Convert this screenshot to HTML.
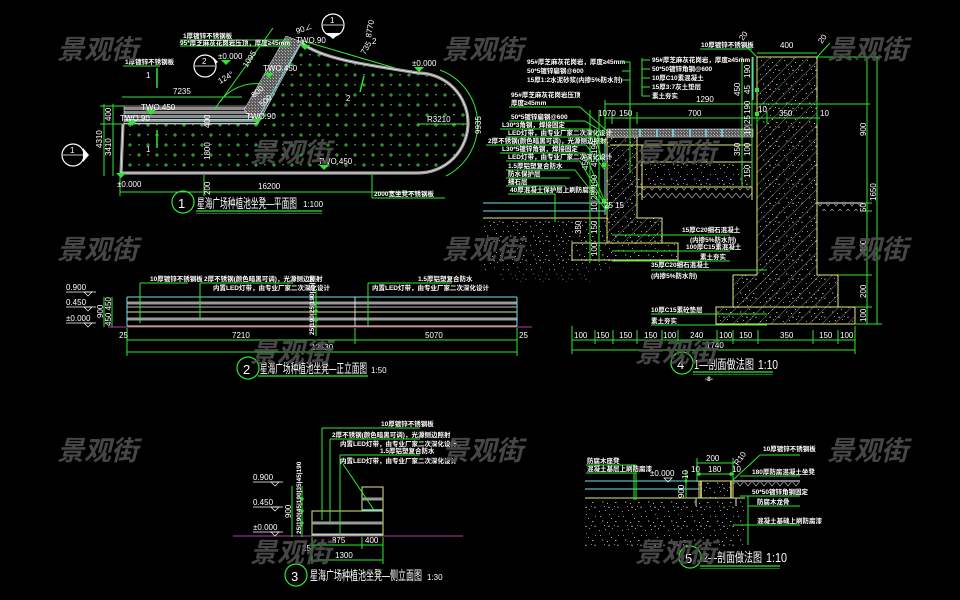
<!DOCTYPE html>
<html><head><meta charset="utf-8"><style>
html,body{margin:0;padding:0;background:#000;}
svg{display:block}
text{font-family:"Liberation Sans","Noto Sans CJK SC",sans-serif;fill:#fff;}
.s{font-size:6.5px;font-weight:bold}
.d{font-size:8px}
.t{font-size:13px}
.wm{font-size:27px;font-weight:bold;font-style:italic;fill:#4e4e4e;font-family:"Noto Sans CJK SC","WenQuanYi Zen Hei",sans-serif}
.g{stroke:#2ee82e;stroke-width:1;fill:none}
.y{stroke:#e6e67a;stroke-width:1;fill:none}
.c{stroke:#6fe0e8;stroke-width:1;fill:none}
.w{stroke:#fff;stroke-width:.8;fill:none}
.gr{stroke:#9a9a9a;fill:none}
</style></head><body>
<svg width="960" height="600" viewBox="0 0 960 600" xmlns="http://www.w3.org/2000/svg">
<defs>
<pattern id="dots" width="18" height="20" patternUnits="userSpaceOnUse">
<path d="M2,5h4M4,3v4M11,15h4M13,13v4" stroke="#3cc23c" stroke-width="1"/>
<path d="M12,4l2,0l-1,2z M3,14l2,0l-1,2z" fill="#3cc23c"/>
</pattern>
<pattern id="hatch" width="9" height="9" patternUnits="userSpaceOnUse" patternTransform="rotate(45)">
<line x1="0" y1="0" x2="0" y2="9" stroke="#8c8c8c" stroke-width=".9"/>
</pattern>
<pattern id="nz" width="23" height="19" patternUnits="userSpaceOnUse">
<rect x="2" y="3" width="1" height="1" fill="#999"/>
<rect x="11" y="1" width="1" height="1" fill="#777"/>
<rect x="17" y="8" width="1.5" height="1" fill="#aaa"/>
<rect x="6" y="12" width="1" height="1" fill="#888"/>
<rect x="14" y="15" width="1" height="1" fill="#999"/>
<path d="M19,14l2,0l-1,-2z" fill="#888"/>
<path d="M4,7l2,1l-2,1z" fill="#777"/>
<rect x="9" y="9" width="1" height="1" fill="#bbb"/>
<rect x="20" y="3" width="1" height="1" fill="#888"/>
<rect x="1" y="17" width="1" height="1" fill="#999"/>
<rect x="13" y="5" width="1" height="1" fill="#aaa"/>
<rect x="7" y="16" width="1" height="1" fill="#999"/>
<rect x="16" y="12" width="1" height="1" fill="#888"/>
<path d="M10,14l2,0l-1,-2z" fill="#999"/>
</pattern>
<pattern id="zig" width="8" height="8" patternUnits="userSpaceOnUse">
<path d="M0,1L4,6L8,1" stroke="#8a8a8a" stroke-width=".9" fill="none"/>
</pattern>
<pattern id="hs" width="6" height="4" patternUnits="userSpaceOnUse">
<rect width="6" height="2.2" fill="#8c8c8c"/>
<rect y="3" width="6" height=".6" fill="#eee"/>
</pattern>
<pattern id="dense" width="3" height="3" patternUnits="userSpaceOnUse">
<rect width="3" height="3" fill="#5a5a5a"/>
<rect width="1" height="1" fill="#bbb"/>
<rect x="2" y="2" width="1" height="1" fill="#999"/>
</pattern>
</defs>
<rect width="960" height="600" fill="#000"/>

<!-- ============ PLAN 1 ============ -->
<path d="M123,124 L258,124 L302,43 C320,58 360,64 418,73 A50,50 0 0 1 418,173 L121,173 Z" fill="url(#dots)"/>
<path d="M302,43 C320,58 360,64 418,73 A50,50 0 0 1 418,173 L121,173 L123,124" stroke="#9a9a9a" stroke-width="3.2" fill="none"/>
<path d="M302,43 C320,58 360,64 418,73 A50,50 0 0 1 418,173 L121,173 L123,124" stroke="#fff" stroke-width=".6" fill="none"/>
<polygon points="124,106 250,106 258,124 124,124" fill="url(#hs)" stroke="#fff" stroke-width=".5"/>
<line x1="124" y1="120" x2="256" y2="120" stroke="#6fe0e8" stroke-width=".8"/>
<polygon points="286,36 302,42 258,124 244,110" fill="url(#dense)" stroke="#fff" stroke-width=".5"/>
<line x1="300" y1="44" x2="256" y2="122" stroke="#6fe0e8" stroke-width="1"/>
<!-- plan leaders & dims -->
<line class="g" x1="180" y1="40" x2="290" y2="40"/>
<line class="g" x1="180" y1="46" x2="290" y2="46"/>
<text class="s" x="183" y="38">1厚镀锌不锈钢板</text>
<text class="s" x="180" y="45">95*厚芝麻灰花岗岩压顶，厚度≥45mm</text>
<line class="g" x1="123" y1="66" x2="160" y2="66"/>
<text class="s" x="125" y="64">1厚镀锌不锈钢板</text>
<line class="g" x1="122" y1="97" x2="242" y2="97"/>
<text class="d" x="173" y="94">7235</text>
<line class="g" x1="104" y1="104" x2="104" y2="176"/>
<line class="g" x1="113" y1="104" x2="113" y2="176"/>
<line class="g" x1="100" y1="106" x2="124" y2="106"/>
<line class="g" x1="100" y1="124" x2="124" y2="124"/>
<text class="d" transform="translate(102,148) rotate(-90)">4310</text>
<text class="d" transform="translate(111,156) rotate(-90)">3410</text>
<text class="d" transform="translate(111,121) rotate(-90)">400</text>
<line class="g" x1="120" y1="192" x2="418" y2="192"/>
<line class="g" x1="120" y1="175" x2="120" y2="196"/>
<line class="g" x1="204" y1="175" x2="204" y2="196"/>
<text class="d" x="258" y="189">16200</text>
<text class="d" transform="translate(210,195) rotate(-90)">200</text>
<text class="d" transform="translate(210,160) rotate(-90)">1800</text>
<text class="d" transform="translate(210,128) rotate(-90)">400</text>
<line class="g" x1="372" y1="173" x2="372" y2="198"/>
<line class="g" x1="372" y1="198" x2="445" y2="198"/>
<text class="s" x="374" y="196">2000宽坐凳不锈钢板</text>
<line class="g" x1="418" y1="124" x2="468" y2="124"/>
<text class="d" x="427" y="122">R3210</text>
<path class="g" d="M440,70 A58,58 0 0 1 446,176"/>
<text class="d" transform="translate(481,134) rotate(-90)">9935</text>
<line class="g" x1="273" y1="28" x2="220" y2="102"/>
<text class="d" transform="translate(247,68) rotate(-58)">1095</text>
<path class="g" d="M215,110 A45,45 0 0 1 262,84"/>
<text class="d" transform="translate(220,84) rotate(-30)">124°</text>
<text class="d" transform="translate(254,98) rotate(-40)">800</text>
<text class="d" transform="translate(262,107) rotate(-40)">500</text>
<text class="d" transform="translate(297,34) rotate(-20)">90∠</text>
<line class="g" x1="300" y1="40" x2="395" y2="68"/>
<text class="d" transform="translate(371,38) rotate(-80)">8770</text>
<text class="d" x="372" y="44">2</text>
<text class="d" transform="translate(365,55) rotate(-60)">735</text>
<!-- elevation tags -->
<g fill="#2ee82e">
<path d="M146,110l10,0l-5,5z"/><path d="M127,121l10,0l-5,5z"/><path d="M252,119l10,0l-5,5z"/>
<path d="M264,73l10,0l-5,5z"/><path d="M300,45l10,0l-5,5z"/><path d="M319,165l10,0l-5,5z"/>
<path d="M221,60l10,0l-5,5z"/><path d="M414,67l10,0l-5,5z"/><path d="M116,173l10,0l-5,5z"/>
</g>
<text class="d" x="141" y="110">TWO.450</text>
<text class="d" x="120" y="121">TWO.90</text>
<text class="d" x="246" y="119">TWO.90</text>
<text class="d" x="263" y="71">TWO.450</text>
<text class="d" x="296" y="43">TWO.90</text>
<text class="d" x="318" y="164">TWO.450</text>
<text class="d" x="218" y="59">±0.000</text>
<text class="d" x="412" y="66">±0.000</text>
<text class="d" x="117" y="187">±0.000</text>
<text class="d" x="146" y="78">1</text>
<text class="d" x="146" y="152">1</text>
<text class="d" x="346" y="101">2</text>
<line x1="157" y1="68" x2="157" y2="88" stroke="#2ee82e" stroke-width="1.5"/>
<line x1="157" y1="130" x2="157" y2="148" stroke="#2ee82e" stroke-width="1.5"/>
<line x1="360" y1="92" x2="364" y2="76" stroke="#2ee82e" stroke-width="1.5"/>
<!-- section markers -->
<circle cx="205" cy="66" r="11" fill="none" stroke="#fff" stroke-width="1.2"/>
<line class="w" x1="195" y1="66" x2="215" y2="66"/><path d="M213,57l5,5l-3,2z" fill="#fff"/>
<text class="d" x="202" y="64">2</text>
<circle cx="73" cy="155" r="11" fill="none" stroke="#fff" stroke-width="1.2"/>
<line class="w" x1="63" y1="155" x2="83" y2="155"/><path d="M83,148l6,7l-6,7z" fill="#fff"/>
<text class="d" x="70" y="153">1</text>
<circle cx="333" cy="25" r="11" fill="none" stroke="#fff" stroke-width="1.2"/>
<line class="w" x1="323" y1="25" x2="343" y2="25"/><path d="M326,33l7,6l7,-6z" fill="#fff"/>
<text class="d" x="330" y="23">1</text>
<!-- title 1 -->
<circle cx="183" cy="202" r="11" fill="none" stroke="#2ee82e" stroke-width="1.2"/>
<text class="t" x="178" y="208">1</text>
<text class="t" x="197" y="208" textLength="100" lengthAdjust="spacingAndGlyphs">星海广场种植池坐凳—平面图</text>
<text class="d" x="303" y="207">1:100</text>
<line x1="196" y1="211" x2="322" y2="211" stroke="#2ee82e" stroke-width="1.2"/>
<line x1="196" y1="213.5" x2="322" y2="213.5" stroke="#2ee82e" stroke-width=".6"/>

<!-- ============ ELEVATION 2 ============ -->
<line x1="108" y1="327" x2="532" y2="327" stroke="#b040b0" stroke-width="1"/>
<line class="c" x1="127" y1="297" x2="517" y2="297"/>
<line x1="127" y1="303" x2="517" y2="303" stroke="#9a9a9a" stroke-width="3"/>
<line class="w" x1="127" y1="307" x2="517" y2="307"/>
<line class="y" x1="127" y1="312" x2="517" y2="312"/>
<line x1="127" y1="319" x2="517" y2="319" stroke="#9a9a9a" stroke-width="3"/>
<line class="y" x1="127" y1="326" x2="517" y2="326"/>
<line class="c" x1="127" y1="297" x2="127" y2="326"/>
<line class="c" x1="517" y1="297" x2="517" y2="326"/>
<line class="w" x1="355" y1="297" x2="355" y2="326"/>
<line class="g" x1="140" y1="283" x2="140" y2="323"/>
<line class="g" x1="140" y1="283" x2="188" y2="283"/>
<text class="s" x="150" y="281">10厚镀锌不锈钢板</text>
<line class="g" x1="200" y1="283" x2="200" y2="318"/>
<line class="g" x1="200" y1="283" x2="293" y2="283"/>
<text class="s" x="204" y="281">2厚不锈钢(颜色暗黑可调)，光源侧边照射</text>
<text class="s" x="213" y="290">内置LED灯带，由专业厂家二次深化设计</text>
<line class="g" x1="368" y1="283" x2="368" y2="326"/>
<line class="g" x1="368" y1="283" x2="452" y2="283"/>
<text class="s" x="418" y="281">1.5厚铝塑复合防水</text>
<text class="s" x="372" y="290">内置LED灯带，由专业厂家二次深化设计</text>
<line class="g" x1="316" y1="290" x2="316" y2="336"/>
<g fill="#2ee82e"><circle cx="316" cy="303" r="1.8"/><circle cx="316" cy="311" r="1.8"/><circle cx="316" cy="320" r="1.8"/></g>
<text class="s" transform="translate(314,335) rotate(-90)">25|190|25|190|25|90</text>
<text class="d" x="66" y="290">0.900</text><line class="w" x1="66" y1="292" x2="96" y2="292"/><path d="M84,292l8,0l-4,4z" fill="none" stroke="#fff" stroke-width=".7"/>
<text class="d" x="66" y="305">0.450</text><line class="w" x1="66" y1="307" x2="96" y2="307"/><path d="M84,307l8,0l-4,4z" fill="none" stroke="#fff" stroke-width=".7"/>
<text class="d" x="66" y="321">±0.000</text><line class="w" x1="66" y1="323" x2="96" y2="323"/><path d="M84,323l8,0l-4,4z" fill="none" stroke="#fff" stroke-width=".7"/>
<line class="g" x1="104" y1="297" x2="104" y2="327"/>
<line class="g" x1="112" y1="297" x2="112" y2="327"/>
<text class="d" transform="translate(103,318) rotate(-90)">900</text>
<text class="d" transform="translate(111,326) rotate(-90)">450 450</text>
<line class="g" x1="127" y1="340" x2="517" y2="340"/>
<line class="g" x1="127" y1="352" x2="517" y2="352"/>
<line class="g" x1="127" y1="328" x2="127" y2="356"/>
<line class="g" x1="355" y1="328" x2="355" y2="344"/>
<line class="g" x1="517" y1="328" x2="517" y2="356"/>
<text class="d" x="119" y="338">25</text>
<text class="d" x="232" y="338">7210</text>
<text class="d" x="425" y="338">5070</text>
<text class="d" x="519" y="338">25</text>
<text class="d" x="311" y="350">12530</text>
<circle cx="248" cy="368" r="11" fill="none" stroke="#2ee82e" stroke-width="1.2"/>
<text class="t" x="243" y="374">2</text>
<text class="t" x="260" y="373" textLength="107" lengthAdjust="spacingAndGlyphs">星海广场种植池坐凳—正立面图</text>
<text class="d" x="371" y="373">1:50</text>
<line x1="258" y1="376" x2="368" y2="376" stroke="#2ee82e" stroke-width="1.2"/>

<!-- ============ ELEVATION 3 ============ -->
<line x1="233" y1="536" x2="463" y2="536" stroke="#b040b0" stroke-width="1"/>
<rect x="312" y="511" width="71" height="24" fill="none" stroke="#e6e67a"/>
<line x1="312" y1="523" x2="383" y2="523" stroke="#9a9a9a" stroke-width="3"/>
<line class="c" x1="312" y1="534" x2="383" y2="534"/>
<rect x="362" y="487" width="21" height="24" fill="none" stroke="#e6e67a"/>
<line x1="362" y1="499" x2="383" y2="499" stroke="#9a9a9a" stroke-width="3"/>
<line x1="362" y1="510" x2="383" y2="510" stroke="#6fe0e8" stroke-width="1.5"/>
<line class="g" x1="322" y1="428" x2="322" y2="520"/><line class="g" x1="322" y1="428" x2="420" y2="428"/>
<text class="s" x="381" y="426">10厚镀锌不锈钢板</text>
<line class="g" x1="330" y1="439" x2="330" y2="523"/><line class="g" x1="330" y1="439" x2="420" y2="439"/>
<text class="s" x="332" y="437">2厚不锈钢(颜色暗黑可调)，光源侧边照射</text>
<text class="s" x="340" y="446">内置LED灯带，由专业厂家二次深化设计</text>
<line class="g" x1="340" y1="455" x2="340" y2="535"/><line class="g" x1="340" y1="455" x2="420" y2="455"/>
<text class="s" x="380" y="453">1.5厚铝塑复合防水</text>
<text class="s" x="340" y="463">内置LED灯带，由专业厂家二次深化设计</text>
<line class="g" x1="343" y1="464" x2="374" y2="510"/>
<text class="d" x="253" y="480">0.900</text><line class="w" x1="253" y1="482" x2="283" y2="482"/><path d="M271,482l8,0l-4,4z" fill="none" stroke="#fff" stroke-width=".7"/>
<text class="d" x="253" y="505">0.450</text><line class="w" x1="253" y1="507" x2="283" y2="507"/><path d="M271,507l8,0l-4,4z" fill="none" stroke="#fff" stroke-width=".7"/>
<text class="d" x="253" y="530">±0.000</text><line class="w" x1="253" y1="532" x2="283" y2="532"/><path d="M271,532l8,0l-4,4z" fill="none" stroke="#fff" stroke-width=".7"/>
<line class="g" x1="292" y1="486" x2="292" y2="537"/>
<line class="g" x1="302" y1="486" x2="302" y2="537"/>
<text class="d" transform="translate(291,518) rotate(-90)">900</text>
<text class="s" transform="translate(301,534) rotate(-90)">25|190|45|190|35|45|190</text>
<g fill="#2ee82e"><circle cx="302" cy="499" r="1.6"/><circle cx="302" cy="511" r="1.6"/><circle cx="302" cy="523" r="1.6"/></g>
<line class="g" x1="312" y1="545" x2="383" y2="545"/>
<line class="g" x1="312" y1="560" x2="383" y2="560"/>
<line class="g" x1="312" y1="537" x2="312" y2="564"/>
<line class="g" x1="362" y1="537" x2="362" y2="549"/>
<line class="g" x1="383" y1="537" x2="383" y2="564"/>
<text class="d" x="302" y="551">25</text>
<text class="d" x="332" y="543">875</text>
<text class="d" x="365" y="543">400</text>
<text class="d" x="335" y="558">1300</text>
<circle cx="296" cy="575" r="11" fill="none" stroke="#2ee82e" stroke-width="1.2"/>
<text class="t" x="291" y="581">3</text>
<text class="t" x="310" y="580" textLength="112" lengthAdjust="spacingAndGlyphs">星海广场种植池坐凳—侧立面图</text>
<text class="d" x="427" y="580">1:30</text>

<!-- ============ SECTION 4 ============ -->
<rect x="482" y="221" width="128" height="50" fill="url(#nz)"/>
<rect x="500" y="270" width="90" height="12" fill="url(#nz)" opacity=".5"/>
<line class="c" x1="483" y1="203" x2="605" y2="203"/>
<line class="c" x1="483" y1="211" x2="605" y2="211"/>
<line class="y" x1="483" y1="218" x2="607" y2="218"/>
<path d="M757,57H817V275H838V307H855V324H716V307H733V275H757Z" fill="url(#hatch)"/>
<path d="M757,57H817V275H838V307H855V324H716V307H733V275H757Z" fill="url(#nz)" stroke="#e6e67a"/>
<line class="y" x1="716" y1="307" x2="855" y2="307"/>
<path d="M607,137H637V218H662V243H607Z" fill="url(#hatch)"/>
<path d="M607,137H637V218H662V243H607Z" fill="url(#nz)" stroke="#e6e67a"/>
<rect x="572" y="243" width="106" height="17" fill="url(#nz)" stroke="#e6e67a"/>
<rect x="607" y="129" width="146" height="8" fill="url(#dense)" stroke="#fff" stroke-width=".5"/>
<g stroke="#6fe0e8" stroke-width="1.6"><line x1="640" y1="129" x2="640" y2="137"/><line x1="657" y1="129" x2="657" y2="137"/><line x1="673" y1="129" x2="673" y2="137"/><line x1="690" y1="129" x2="690" y2="137"/><line x1="706" y1="129" x2="706" y2="137"/><line x1="722" y1="129" x2="722" y2="137"/></g>
<line class="y" x1="610" y1="145" x2="752" y2="145"/>
<line class="y" x1="637" y1="162" x2="752" y2="162"/>
<rect x="637" y="162" width="115" height="25" fill="url(#nz)"/>
<line class="y" x1="637" y1="187" x2="752" y2="187"/>
<rect x="637" y="188" width="115" height="10" fill="url(#zig)"/>
<line class="y" x1="752" y1="137" x2="752" y2="200"/>
<line class="y" x1="642" y1="145" x2="642" y2="200"/>
<line class="c" x1="605" y1="140" x2="605" y2="215"/>
<line class="c" x1="753" y1="57" x2="753" y2="100"/>
<g fill="#2ee82e"><rect x="602" y="163" width="4" height="4"/><rect x="602" y="199" width="4" height="4"/><rect x="755" y="88" width="4" height="4"/><rect x="755" y="112" width="4" height="4"/><rect x="605" y="205" width="4" height="4"/></g>
<line x1="817" y1="203" x2="862" y2="203" stroke="#aaa" stroke-width="1.5"/>
<rect x="817" y="204" width="45" height="7" fill="url(#zig)"/>
<!-- top dims -->
<line class="g" x1="757" y1="53" x2="817" y2="53"/>
<text class="d" x="780" y="48">400</text>
<line class="g" x1="745" y1="45" x2="757" y2="57"/><line class="g" x1="817" y1="57" x2="830" y2="43"/>
<text class="d" transform="translate(743,41) rotate(-55)">20</text>
<text class="d" transform="translate(822,44) rotate(-55)">20</text>
<line class="g" x1="700" y1="49" x2="752" y2="49"/>
<text class="s" x="701" y="47">10厚镀锌不锈钢板</text>
<line class="g" x1="877" y1="57" x2="877" y2="324"/>
<line class="g" x1="867" y1="57" x2="867" y2="324"/>
<g class="g"><line x1="817" y1="57" x2="882" y2="57"/><line x1="862" y1="203" x2="872" y2="203"/><line x1="862" y1="211" x2="872" y2="211"/><line x1="838" y1="275" x2="872" y2="275"/><line x1="855" y1="307" x2="872" y2="307"/><line x1="855" y1="324" x2="882" y2="324"/></g>
<text class="d" transform="translate(866,136) rotate(-90)">900</text>
<text class="d" transform="translate(876,201) rotate(-90)">1650</text>
<text class="d" transform="translate(866,212) rotate(-90)">50</text>
<text class="d" transform="translate(866,253) rotate(-90)">400</text>
<text class="d" transform="translate(866,298) rotate(-90)">200</text>
<text class="d" transform="translate(866,322) rotate(-90)">100</text>
<line class="g" x1="605" y1="104" x2="870" y2="104"/>
<text class="d" x="696" y="102">1290</text>
<line class="g" x1="605" y1="118" x2="820" y2="118"/>
<g class="g"><line x1="605" y1="100" x2="605" y2="130"/><line x1="612" y1="112" x2="612" y2="124"/><line x1="637" y1="112" x2="637" y2="124"/><line x1="757" y1="112" x2="757" y2="124"/><line x1="767" y1="112" x2="767" y2="124"/><line x1="817" y1="100" x2="817" y2="124"/></g>
<text class="d" x="598" y="116">1070</text>
<text class="d" x="619" y="116">150</text>
<text class="d" x="688" y="116">700</text>
<text class="d" x="758" y="112">10</text>
<text class="d" x="779" y="116">350</text>
<text class="d" x="820" y="116">10</text>
<line class="g" x1="742" y1="57" x2="742" y2="187"/>
<line class="g" x1="752" y1="57" x2="752" y2="187"/>
<text class="d" transform="translate(750,78) rotate(-90)">190</text>
<text class="d" transform="translate(750,94) rotate(-90)">45</text>
<text class="d" transform="translate(750,114) rotate(-90)">190</text>
<text class="d" transform="translate(750,135) rotate(-90)">10|25</text>
<text class="d" transform="translate(750,156) rotate(-90)">100</text>
<text class="d" transform="translate(750,178) rotate(-90)">150</text>
<text class="d" transform="translate(740,96) rotate(-90)">450</text>
<text class="d" transform="translate(740,156) rotate(-90)">350</text>
<line class="g" x1="590" y1="110" x2="590" y2="262"/>
<line class="g" x1="599" y1="110" x2="599" y2="262"/>
<text class="d" transform="translate(597,154) rotate(-90)">190</text>
<text class="d" transform="translate(597,167) rotate(-90)">45</text>
<text class="d" transform="translate(597,188) rotate(-90)">190</text>
<text class="d" transform="translate(597,211) rotate(-90)">10|25</text>
<text class="d" transform="translate(597,234) rotate(-90)">150</text>
<text class="d" transform="translate(597,256) rotate(-90)">100</text>
<text class="d" transform="translate(588,170) rotate(-90)">450</text>
<text class="d" transform="translate(581,234) rotate(-90)">350</text>
<text class="d" x="604" y="208">25</text>
<text class="d" x="615" y="208">15</text>
<!-- top label groups -->
<text class="s" x="527" y="64">95#厚芝麻灰花岗岩，厚度≥45mm</text>
<text class="s" x="527" y="73">50*5镀锌扁钢@600</text>
<text class="s" x="527" y="82">15厚1:2水泥砂浆(内掺5%防水剂)</text>
<g class="g"><line x1="622" y1="62" x2="630" y2="62"/><line x1="622" y1="71" x2="630" y2="71"/><line x1="622" y1="80" x2="630" y2="80"/><line x1="630" y1="62" x2="630" y2="173"/>
<line x1="642" y1="58" x2="642" y2="96"/><line x1="642" y1="60" x2="650" y2="60"/><line x1="642" y1="69" x2="650" y2="69"/><line x1="642" y1="78" x2="650" y2="78"/><line x1="642" y1="87" x2="650" y2="87"/><line x1="642" y1="96" x2="650" y2="96"/></g>
<text class="s" x="652" y="62">95#厚芝麻灰花岗岩，厚度≥45mm</text>
<text class="s" x="652" y="71">50*50镀锌角钢@600</text>
<text class="s" x="652" y="80">10厚C10素混凝土</text>
<text class="s" x="652" y="89">15厚3:7灰土垫层</text>
<text class="s" x="652" y="98">素土夯实</text>
<!-- left labels -->
<text class="s" x="511" y="97">95#厚芝麻灰花岗岩压顶</text>
<text class="s" x="511" y="105">厚度≥45mm</text>
<text class="s" x="511" y="119">50*5镀锌扁钢@600</text>
<text class="s" x="502" y="127">L30*3角钢，焊接固定</text>
<text class="s" x="508" y="135">LED灯带，由专业厂家二次深化设计</text>
<text class="s" x="488" y="143">2厚不锈钢(颜色暗黑可调)，光源侧边照射</text>
<text class="s" x="502" y="151">L30*5镀锌角钢，焊接固定</text>
<text class="s" x="508" y="159">LED灯带，由专业厂家二次深化设计</text>
<text class="s" x="508" y="168">1.5厚铝塑复合防水</text>
<text class="s" x="508" y="176">防水保护层</text>
<text class="s" x="508" y="184">细石层</text>
<text class="s" x="510" y="192">40厚混凝土保护层上刷防腐漆</text>
<g class="g" stroke-width=".8">
<line x1="509" y1="107" x2="580" y2="107"/><line x1="580" y1="107" x2="607" y2="131"/>
<line x1="509" y1="121" x2="585" y2="121"/><line x1="585" y1="121" x2="606" y2="134"/>
<line x1="500" y1="129" x2="590" y2="129"/><line x1="590" y1="129" x2="606" y2="145"/>
<line x1="506" y1="137" x2="595" y2="137"/><line x1="595" y1="137" x2="604" y2="165"/>
<line x1="486" y1="145" x2="586" y2="145"/><line x1="586" y1="145" x2="605" y2="170"/>
<line x1="500" y1="153" x2="585" y2="153"/><line x1="585" y1="153" x2="604" y2="200"/>
<line x1="506" y1="161" x2="580" y2="161"/><line x1="580" y1="161" x2="605" y2="205"/>
<line x1="506" y1="170" x2="575" y2="170"/><line x1="575" y1="170" x2="606" y2="210"/>
<line x1="506" y1="178" x2="570" y2="178"/>
<line x1="506" y1="186" x2="565" y2="186"/>
<line x1="508" y1="194" x2="555" y2="194"/><line x1="555" y1="194" x2="555" y2="222"/>
</g>
<!-- mid labels -->
<g class="g"><line x1="612" y1="235" x2="730" y2="235"/><line x1="612" y1="251" x2="730" y2="251"/><line x1="612" y1="261" x2="730" y2="261"/><line x1="651" y1="270" x2="767" y2="270"/><line x1="651" y1="314" x2="767" y2="314"/><line x1="651" y1="325" x2="767" y2="325"/></g>
<text class="s" x="682" y="232">15厚C20细石混凝土</text>
<text class="s" x="690" y="242">(内掺5%防水剂)</text>
<text class="s" x="686" y="249">100厚C15素混凝土</text>
<text class="s" x="700" y="259">素土夯实</text>
<text class="s" x="651" y="267">35厚C20细石混凝土</text>
<text class="s" x="651" y="278">(内掺5%防水剂)</text>
<text class="s" x="651" y="312">10厚C15素砼垫层</text>
<text class="s" x="651" y="323">素土夯实</text>
<!-- bottom dims -->
<line class="g" x1="572" y1="340" x2="855" y2="340"/>
<line class="g" x1="572" y1="350" x2="855" y2="350"/>
<g class="g"><line x1="572" y1="326" x2="572" y2="354"/><line x1="595" y1="330" x2="595" y2="344"/><line x1="613" y1="330" x2="613" y2="344"/><line x1="637" y1="330" x2="637" y2="344"/><line x1="662" y1="330" x2="662" y2="344"/><line x1="678" y1="330" x2="678" y2="344"/><line x1="717" y1="330" x2="717" y2="344"/><line x1="733" y1="330" x2="733" y2="344"/><line x1="758" y1="330" x2="758" y2="344"/><line x1="813" y1="330" x2="813" y2="344"/><line x1="838" y1="330" x2="838" y2="344"/><line x1="855" y1="326" x2="855" y2="354"/></g>
<text class="d" x="574" y="338">100</text>
<text class="d" x="596" y="338">150</text>
<text class="d" x="619" y="338">150</text>
<text class="d" x="644" y="338">150</text>
<text class="d" x="663" y="338">100</text>
<text class="d" x="690" y="338">240</text>
<text class="d" x="719" y="338">100</text>
<text class="d" x="739" y="338">150</text>
<text class="d" x="780" y="338">350</text>
<text class="d" x="819" y="338">150</text>
<text class="d" x="840" y="338">100</text>
<text class="d" x="706" y="348">1740</text>
<circle cx="682" cy="363" r="11" fill="none" stroke="#2ee82e" stroke-width="1.2"/>
<text class="t" x="677" y="369">4</text>
<text class="t" x="694" y="369" textLength="60" lengthAdjust="spacingAndGlyphs">1—剖面做法图</text>
<text class="t" x="758" y="369" textLength="20" lengthAdjust="spacingAndGlyphs">1:10</text>
<line x1="693" y1="372" x2="773" y2="372" stroke="#2ee82e" stroke-width="1.2"/>
<line x1="693" y1="374.5" x2="773" y2="374.5" stroke="#2ee82e" stroke-width=".6"/>
<text class="s" x="705" y="381">-8-</text>

<!-- ============ SECTION 5 ============ -->
<rect x="585" y="500" width="160" height="46" fill="url(#nz)"/>
<line class="c" x1="585" y1="481" x2="699" y2="481"/>
<line class="c" x1="585" y1="489" x2="699" y2="489"/>
<line class="y" x1="585" y1="498" x2="745" y2="498"/>
<rect x="699" y="481" width="34" height="17" fill="url(#nz)" stroke="#e6e67a"/>
<line x1="733" y1="481" x2="800" y2="481" stroke="#aaa" stroke-width="1.5"/>
<rect x="733" y="482" width="67" height="7" fill="url(#zig)"/>
<line x1="701" y1="481" x2="701" y2="498" stroke="#e6e67a" stroke-width="1.5"/>
<line x1="731" y1="481" x2="731" y2="498" stroke="#e6e67a" stroke-width="1.5"/>
<g stroke="#9a9a9a" stroke-width="1.5"><line x1="696" y1="498" x2="696" y2="506"/><line x1="736" y1="498" x2="736" y2="506"/></g>
<g class="g"><line x1="586" y1="465" x2="636" y2="465"/><line x1="586" y1="473" x2="636" y2="473"/><line x1="636" y1="465" x2="636" y2="500"/><line x1="634" y1="473" x2="634" y2="500"/>
<line x1="697" y1="463" x2="734" y2="463"/><line x1="697" y1="474" x2="734" y2="474"/><line x1="697" y1="458" x2="697" y2="482"/><line x1="733" y1="458" x2="733" y2="482"/>
<line x1="686" y1="470" x2="686" y2="498"/>
<line x1="733" y1="480" x2="760" y2="455"/><line x1="760" y1="455" x2="800" y2="455"/>
<line x1="740" y1="476" x2="800" y2="476"/><line x1="740" y1="496" x2="800" y2="496"/>
<line x1="748" y1="506" x2="800" y2="506"/><line x1="748" y1="496" x2="748" y2="545"/>
<line x1="733" y1="525" x2="800" y2="525"/></g>
<g fill="#2ee82e"><circle cx="699" cy="474" r="1.8"/><circle cx="731" cy="474" r="1.8"/><circle cx="686" cy="481" r="1.5"/></g>
<text class="s" x="587" y="463">防腐木座凳</text>
<text class="s" x="587" y="471">混凝土基层上刷防腐漆</text>
<text class="d" x="650" y="476">±0.000</text>
<path d="M664,478l8,0l-4,4z" fill="none" stroke="#fff" stroke-width=".7"/>
<text class="d" x="706" y="461">200</text>
<text class="d" x="691" y="472">10</text>
<text class="d" x="708" y="472">180</text>
<text class="d" x="732" y="472">10</text>
<text class="d" transform="translate(684,498) rotate(-90)">900</text>
<text class="d" transform="translate(688,479) rotate(-90)">10</text>
<text class="d" transform="translate(738,466) rotate(-55)">R10</text>
<text class="s" x="763" y="451">10厚镀锌不锈钢板</text>
<text class="s" x="752" y="474">180厚防腐混凝土坐凳</text>
<text class="s" x="752" y="494">50*50镀锌角钢固定</text>
<text class="s" x="757" y="504">防腐木龙骨</text>
<text class="s" x="757" y="523">混凝土基础上刷防腐漆</text>
<circle cx="690" cy="557" r="11" fill="none" stroke="#2ee82e" stroke-width="1.2"/>
<text class="t" x="685" y="563">5</text>
<text class="t" x="703" y="562" textLength="59" lengthAdjust="spacingAndGlyphs">2—剖面做法图</text>
<text class="t" x="766" y="562" textLength="21" lengthAdjust="spacingAndGlyphs">1:10</text>
<line x1="700" y1="566" x2="780" y2="566" stroke="#2ee82e" stroke-width="1.2"/>
<line x1="700" y1="568.5" x2="780" y2="568.5" stroke="#2ee82e" stroke-width=".6"/>

<!-- ============ WATERMARKS ============ -->
<g opacity=".9">
<text class="wm" x="57" y="59">景观街</text>
<text class="wm" x="442" y="59">景观街</text>
<text class="wm" x="827" y="59">景观街</text>
<text class="wm" x="250" y="162">景观街</text>
<text class="wm" x="635" y="162">景观街</text>
<text class="wm" x="57" y="259">景观街</text>
<text class="wm" x="442" y="259">景观街</text>
<text class="wm" x="827" y="259">景观街</text>
<text class="wm" x="250" y="362">景观街</text>
<text class="wm" x="635" y="362">景观街</text>
<text class="wm" x="57" y="460">景观街</text>
<text class="wm" x="442" y="460">景观街</text>
<text class="wm" x="827" y="460">景观街</text>
<text class="wm" x="250" y="562">景观街</text>
<text class="wm" x="635" y="562">景观街</text>
</g>
</svg>
</body></html>
